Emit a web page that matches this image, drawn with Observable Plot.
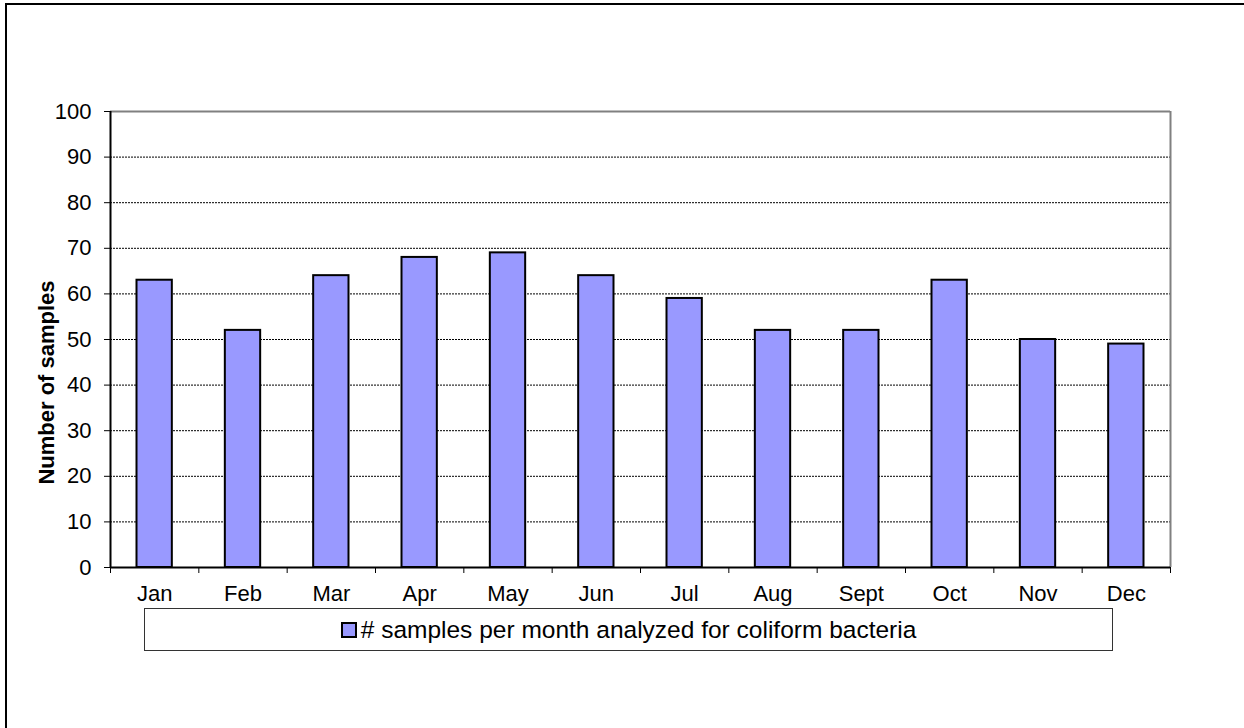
<!DOCTYPE html>
<html>
<head>
<meta charset="utf-8">
<script src="https://cdn.jsdelivr.net/npm/d3@7"></script>
<script src="https://cdn.jsdelivr.net/npm/@observablehq/plot@0.6"></script>
<style>
  html, body { margin: 0; padding: 0; background: #fff; overflow: hidden; }
  #wrap { position: relative; width: 1244px; height: 728px; overflow: hidden; font-family: "Liberation Sans", Arial, sans-serif; }
  #border { position: absolute; left: 5px; top: 3px; width: 1300px; height: 800px; border-left: 2px solid #000; border-top: 2px solid #000; }
  #chart { position: absolute; left: 0; top: 0; }
  #legend { position: absolute; left: 144px; top: 608px; width: 967px; height: 41px; border: 1px solid #333; background: #fff;
            display: flex; align-items: center; justify-content: center; font-size: 24.5px; color: #000; }
  #legend .sw { display: inline-block; width: 12px; height: 12px; border: 2px solid #000; background: #9999FF; margin-right: 4px; }
</style>
</head>
<body>
<div id="wrap">
  <div id="border"></div>
  <div id="chart"></div>
  <div id="legend"></div>
</div>
<script>
const months = ["Jan", "Feb", "Mar", "Apr", "May", "Jun", "Jul", "Aug", "Sept", "Oct", "Nov", "Dec"];
const samples = [63, 52, 64, 68, 69, 64, 59, 52, 52, 63, 50, 49];
const yTicks = [0, 10, 20, 30, 40, 50, 60, 70, 80, 90, 100];
const seriesName = "# samples per month analyzed for coliform bacteria";
const yTitle = "Number of samples";

const data = months.map((m, i) => ({month: m, i, value: samples[i]}));
const boundaries = d3.range(months.length + 1);

const chart = Plot.plot({
  width: 1244,
  height: 606,
  marginLeft: 110,
  marginRight: 74,
  marginTop: 111,
  marginBottom: 39,
  style: {fontFamily: "'Liberation Sans', Arial, sans-serif", fontSize: "22px", color: "#000", background: "transparent", overflow: "visible"},
  x: {type: "linear", domain: [0, months.length], axis: null},
  y: {domain: [0, 100], axis: null},
  marks: [
    Plot.ruleY(yTicks.filter(d => d > 0 && d < 100), {stroke: "#000", strokeWidth: 1, strokeDasharray: "2,1"}),
    Plot.ruleY([100], {stroke: "#808080", strokeWidth: 2}),
    Plot.ruleX([months.length], {stroke: "#808080", strokeWidth: 2}),
    Plot.rectY(data, {x1: "i", x2: d => d.i + 1, y: "value", fill: "#9999FF", stroke: "#000", strokeWidth: 2, insetLeft: 26.5, insetRight: 26.5}),
    Plot.axisY({ticks: yTicks, tickSize: 6, tickPadding: 13, fontSize: 22, label: null, stroke: "#000"}),
    Plot.axisX({ticks: boundaries, tickSize: 6, tickFormat: () => "", label: null, stroke: "#000"}),
    Plot.ruleX([0], {stroke: "#000", strokeWidth: 2}),
    Plot.ruleY([0], {stroke: "#000", strokeWidth: 2}),
    Plot.text(data, {x: d => d.i + 0.5, frameAnchor: "bottom", lineAnchor: "top", dy: 18, text: "month", fontSize: 22, fill: "#000"}),
    Plot.text([yTitle], {frameAnchor: "left", textAnchor: "middle", rotate: -90, dx: -64, dy: 43, fontWeight: "bold", fontSize: 22, fill: "#000"})
  ]
});
document.getElementById("chart").appendChild(chart);

const legend = document.getElementById("legend");
const sw = document.createElement("span");
sw.className = "sw";
legend.appendChild(sw);
const lt = document.createElement("span");
lt.textContent = seriesName;
legend.appendChild(lt);
</script>
</body>
</html>
